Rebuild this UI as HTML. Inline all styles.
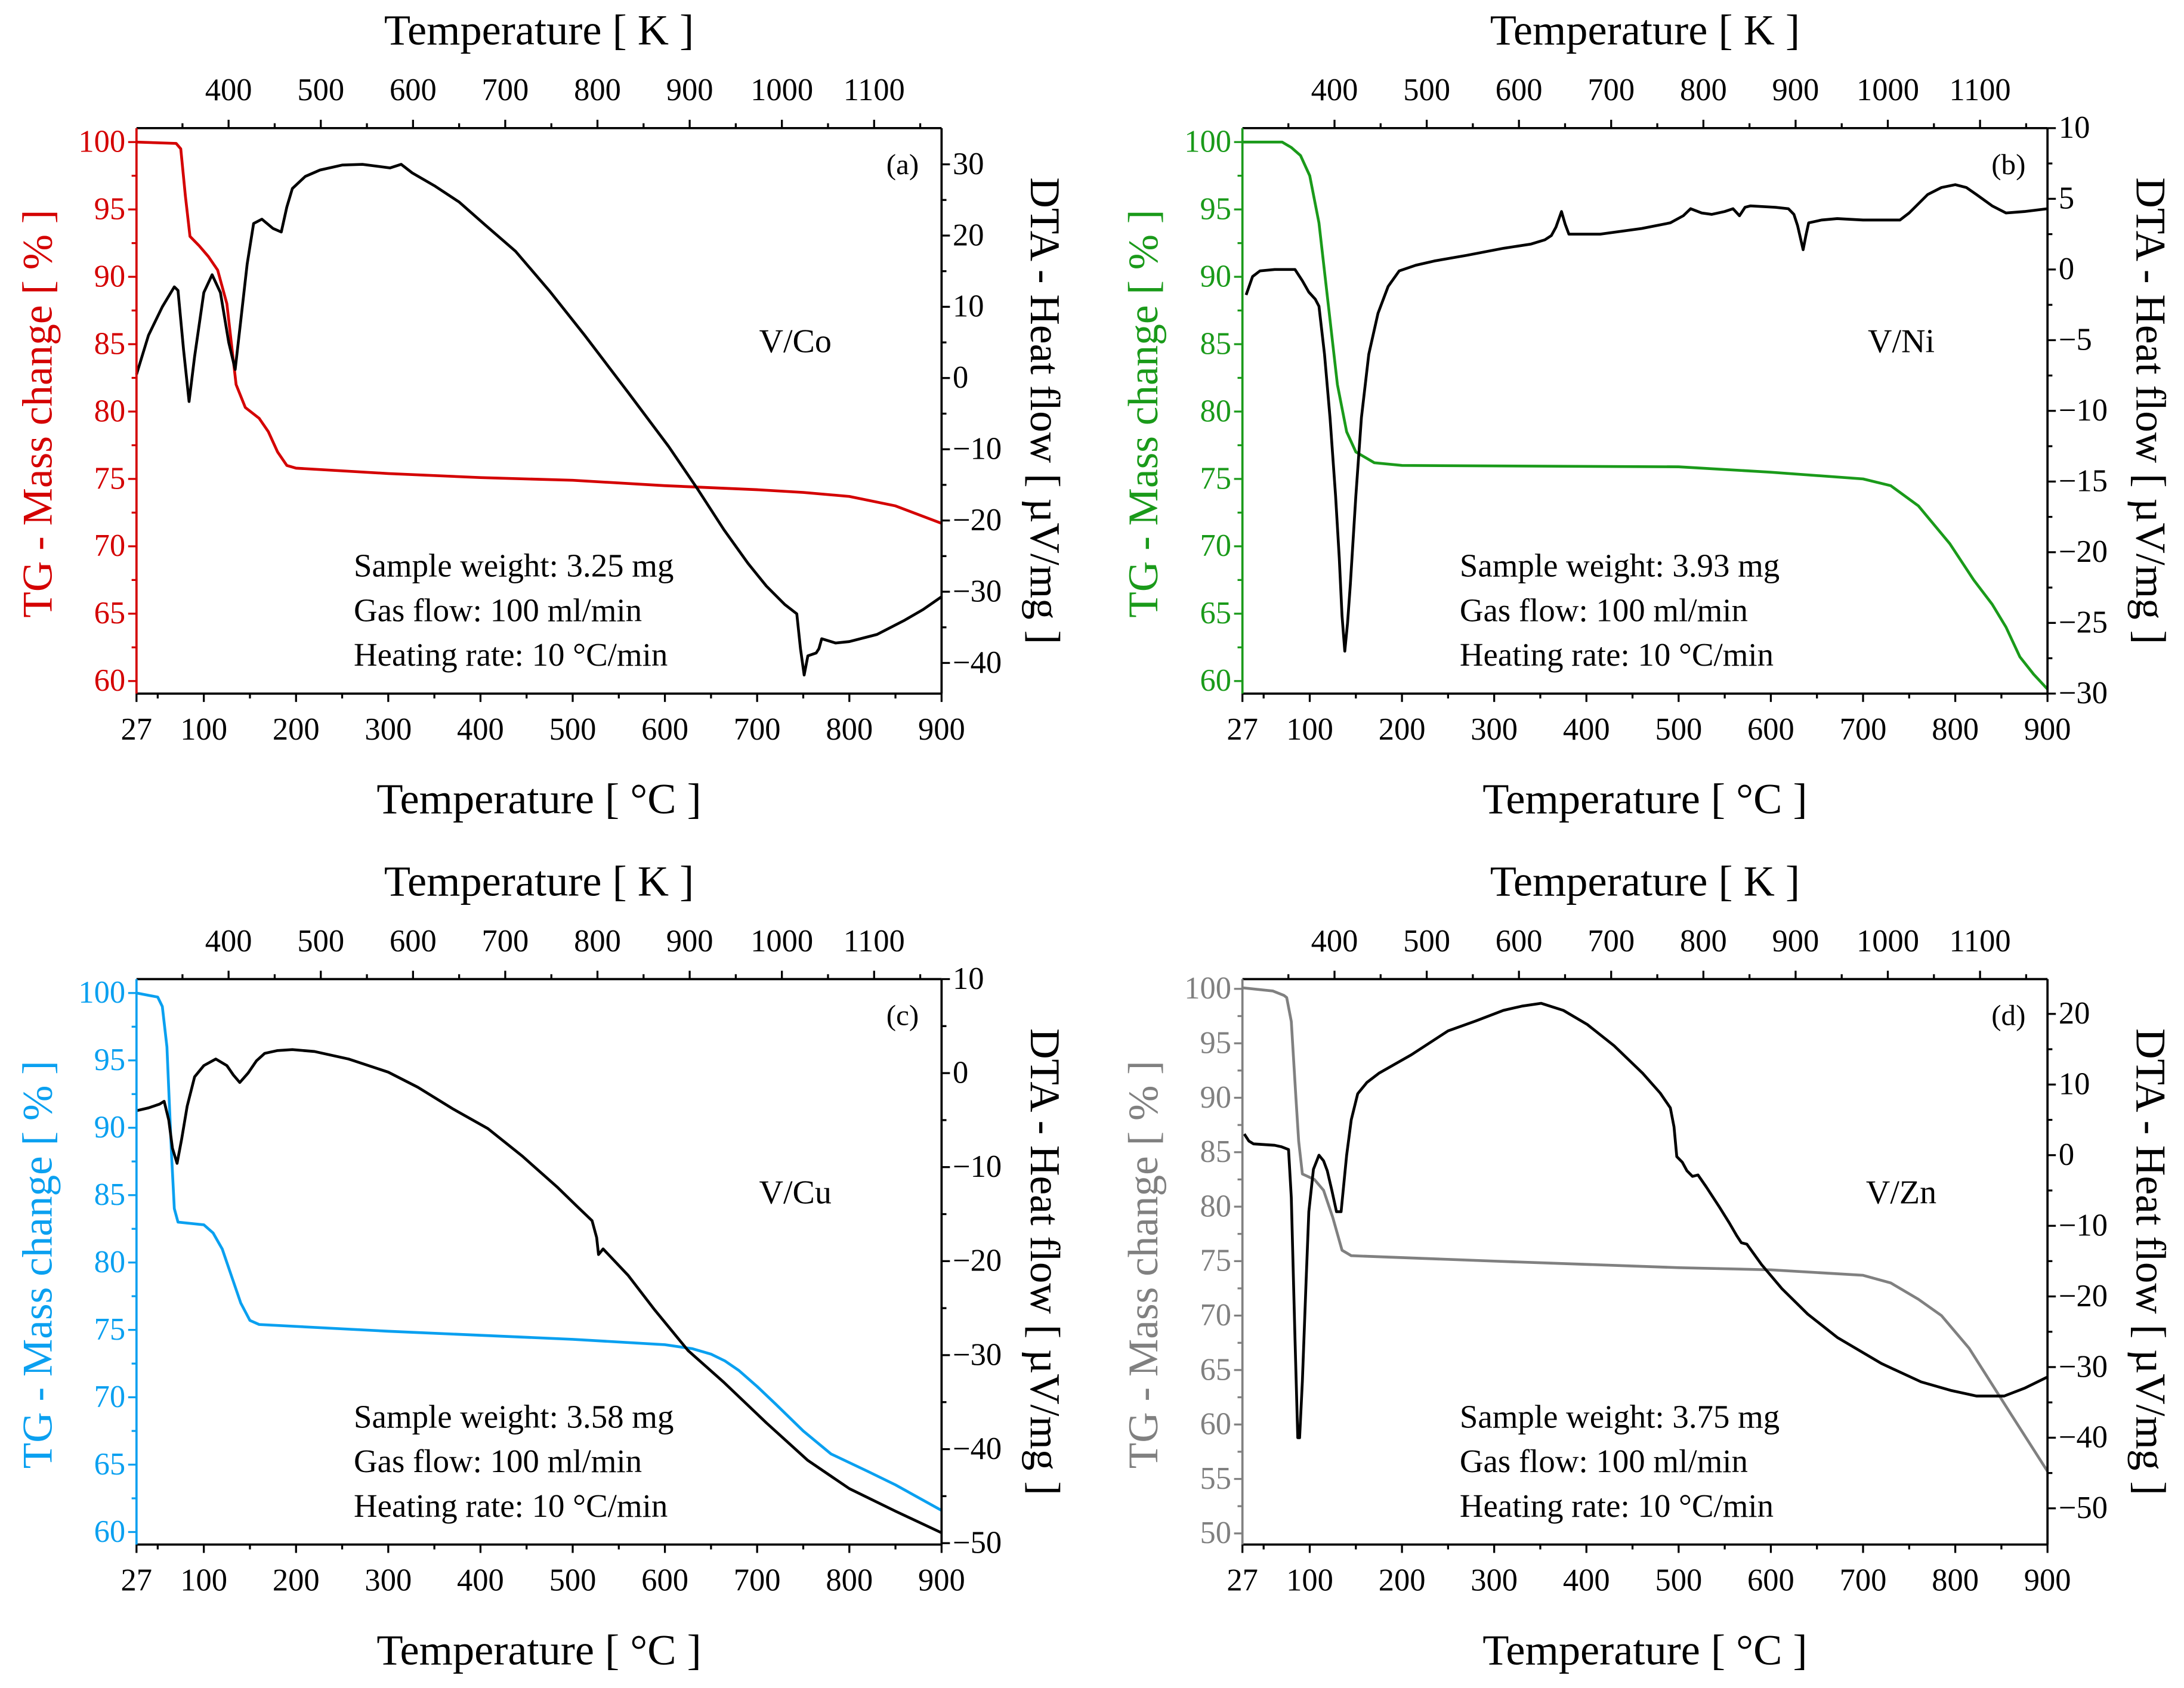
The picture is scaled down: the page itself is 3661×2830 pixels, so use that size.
<!DOCTYPE html>
<html><head><meta charset="utf-8"><style>
html,body{margin:0;padding:0;background:#fff;}
svg{display:block;}
text{font-family:"Liberation Serif",serif;}
</style></head><body>
<svg id="fig" width="3661" height="2830" viewBox="0 0 1568 1212" preserveAspectRatio="none" xmlns="http://www.w3.org/2000/svg"></svg>
<script>
// ---- data ----
const tgA=[[27,100],[70,99.9],[75,99.5],[80,96],[85,93],[95,92.3],[105,91.5],[115,90.5],[125,88],[135,82],[145,80.3],[160,79.5],[170,78.5],[180,77],[190,76],[200,75.8],[300,75.4],[400,75.1],[500,74.9],[600,74.5],[700,74.2],[750,74],[800,73.7],[850,73],[900,71.7]];
const dtaA=[[27,0.5],[40,6],[55,10],[68,12.8],[72,12.3],[78,4],[84,-3.3],[90,3],[100,12],[109,14.5],[118,12],[127,5],[134,1.2],[140,8],[147,16],[154,21.7],[163,22.3],[175,21],[184,20.5],[190,24],[196,26.6],[210,28.3],[226,29.2],[250,29.9],[272,30],[302,29.5],[314,30],[326,28.8],[350,27],[377,24.7],[405,21.5],[438,17.8],[475,12.2],[513,6],[560,-2],[604,-9.6],[635,-15.5],[664,-21.3],[690,-26],[710,-29.2],[730,-31.8],[743,-33.1],[747,-38],[751,-41.7],[755,-39],[764,-38.6],[767,-38],[770,-36.6],[785,-37.2],[800,-37],[830,-36],[860,-34],[880,-32.5],[900,-30.7]];
const tgB=[[27,100],[70,100],[80,99.6],[90,99],[100,97.5],[110,94],[120,88],[130,82],[140,78.5],[150,77],[170,76.2],[200,76],[500,75.9],[600,75.5],[700,75],[730,74.5],[760,73],[794,70.2],[820,67.5],[840,65.7],[855,64],[870,61.8],[885,60.5],[900,59.4]];
const dtaB=[[31,-1.8],[38,-0.5],[46,-0.1],[62,0],[84,0],[92,-0.8],[99,-1.6],[106,-2.1],[110,-2.6],[116,-6],[122,-10.5],[128,-16],[132,-20.4],[135,-24.5],[138,-27],[141,-25],[144,-22.3],[150,-16],[156,-10.5],[164,-6],[174,-3.1],[185,-1.2],[197,-0.1],[215,0.3],[235,0.6],[270,1],[310,1.5],[340,1.8],[355,2.1],[362,2.4],[367,3],[373,4.1],[377,3.2],[381,2.5],[415,2.5],[460,2.9],[491,3.3],[505,3.8],[513,4.3],[525,4],[536,3.9],[550,4.1],[559,4.3],[566,3.8],[572,4.4],[578,4.5],[605,4.4],[619,4.3],[625,3.9],[629,3.1],[635,1.4],[638,2.4],[641,3.3],[655,3.5],[672,3.6],[700,3.5],[740,3.5],[750,4],[770,5.3],[785,5.8],[800,6],[812,5.8],[823,5.3],[840,4.5],[855,4],[875,4.1],[900,4.3]];
const tgC=[[27,100],[50,99.7],[55,99],[60,96],[65,88],[68,84],[72,83],[100,82.8],[110,82.2],[120,81],[130,79],[140,77],[150,75.7],[160,75.4],[300,74.9],[500,74.3],[600,73.9],[630,73.6],[650,73.2],[665,72.7],[680,72],[700,70.8],[720,69.5],[750,67.5],[780,65.8],[820,64.5],[850,63.5],[900,61.6]];
const dtaC=[[27,-4],[40,-3.7],[52,-3.3],[57,-3],[62,-5],[66,-8],[71,-9.6],[76,-7],[82,-3.5],[90,-0.4],[100,0.8],[113,1.5],[125,0.8],[132,-0.2],[139,-1],[148,0],[157,1.3],[166,2.1],[180,2.4],[196,2.5],[220,2.3],[257,1.5],[300,0.1],[332,-1.5],[370,-3.8],[408,-5.9],[445,-8.8],[483,-12.1],[505,-14.2],[521,-15.7],[526,-17.5],[528,-19.3],[533,-18.7],[560,-21.5],[589,-25.2],[625,-29.5],[664,-32.9],[710,-37.2],[755,-41.2],[800,-44.2],[850,-46.6],[900,-48.9]];
const tgD=[[27,100.1],[60,99.8],[72,99.4],[75,99.2],[80,97],[85,90],[88,86],[92,83],[105,82.5],[115,81.5],[125,79],[135,76],[145,75.5],[300,75],[500,74.4],[600,74.2],[700,73.7],[730,73],[760,71.5],[785,70],[800,68.5],[815,67],[830,65],[860,61],[900,55.7]];
const dtaD=[[29,3],[34,2],[39,1.6],[62,1.4],[69,1.2],[77,0.8],[80,-6],[84,-26],[87,-40],[89,-40],[92,-32],[96,-18],[99,-8],[104,-2],[110,0],[115,-0.8],[119,-2.2],[124,-5],[129,-8],[134,-8],[137,-4],[140,0],[145,5],[152,8.7],[162,10.3],[175,11.6],[210,14.2],[250,17.6],[280,19],[310,20.5],[330,21.1],[351,21.5],[375,20.5],[401,18.5],[430,15.5],[461,11.6],[480,8.8],[491,6.7],[495,4],[498,-0.2],[504,-1],[509,-2.2],[515,-3],[521,-2.8],[530,-4.5],[544,-7.3],[555,-9.6],[563,-11.4],[568,-12.4],[574,-12.6],[590,-15.5],[612,-18.9],[640,-22.5],[672,-25.8],[720,-29.5],[763,-32.1],[795,-33.3],[823,-34.1],[853,-34.1],[875,-33],[900,-31.4]];

const tgTicksA=[60,65,70,75,80,85,90,95,100];
const dtaTicksA=[-40,-30,-20,-10,0,10,20,30];
const dtaTicksB=[-30,-25,-20,-15,-10,-5,0,5,10];
const dtaTicksC=[-50,-40,-30,-20,-10,0,10];
const tgTicksD=[50,55,60,65,70,75,80,85,90,95,100];
const dtaTicksD=[-50,-40,-30,-20,-10,0,10,20];
const cTicks=[27,100,200,300,400,500,600,700,800,900];
const kTicks=[400,500,600,700,800,900,1000,1100];

const NS="http://www.w3.org/2000/svg";
const svg=document.getElementById('fig');
function mk(tag,attrs,parent,txt){const e=document.createElementNS(NS,tag);for(const k in attrs)e.setAttribute(k,attrs[k]);if(txt!==undefined)e.textContent=txt;(parent||svg).appendChild(e);return e;}

const panels=[
 {id:'a',ox:0,oy:0,color:'#d40000',tg:tgA,dta:dtaA,tgMin:60,tgMax:100,tgY0:102,tgY1:489,tgTicks:tgTicksA,tgMinor:2.5,dMin:-40,dMax:30,dY0:476,dY1:118,dTicks:dtaTicksA,dMinor:5,label:'V/Co',w:'3.25'},
 {id:'b',ox:794,oy:0,color:'#1a9a1a',tg:tgB,dta:dtaB,tgMin:60,tgMax:100,tgY0:102,tgY1:489,tgTicks:tgTicksA,tgMinor:2.5,dMin:-30,dMax:10,dY0:498,dY1:92,dTicks:dtaTicksB,dMinor:2.5,label:'V/Ni',w:'3.93'},
 {id:'c',ox:0,oy:611,color:'#0aa0f0',tg:tgC,dta:dtaC,tgMin:60,tgMax:100,tgY0:102,tgY1:489,tgTicks:tgTicksA,tgMinor:2.5,dMin:-50,dMax:10,dY0:497,dY1:92,dTicks:dtaTicksC,dMinor:5,label:'V/Cu',w:'3.58'},
 {id:'d',ox:794,oy:611,color:'#808080',tg:tgD,dta:dtaD,tgMin:50,tgMax:100,tgY0:99,tgY1:490,tgTicks:tgTicksD,tgMinor:2.5,dMin:-50,dMax:20,dY0:472,dY1:117,dTicks:dtaTicksD,dMinor:5,label:'V/Zn',w:'3.75'}
];

panels.forEach(p=>{
 const g=mk('g',{transform:`translate(${p.ox},${p.oy})`});
 
 
 const L=98,R=676,T=92,B=498;
 const xs=t=>L+(t-27)*(R-L)/873;
 const yT=v=>p.tgY1+(v-p.tgMin)*(p.tgY0-p.tgY1)/(p.tgMax-p.tgMin);
 const yD=v=>p.dY0+(v-p.dMin)*(p.dY1-p.dY0)/(p.dMax-p.dMin);
 const tgPath=mk('path',{d:'M'+p.tg.map(d=>xs(d[0]).toFixed(2)+','+yT(d[1]).toFixed(2)).join('L'),fill:'none',stroke:p.color,'stroke-width':2,'stroke-linejoin':'round'},g);
 
 
 const dPath=mk('path',{d:'M'+p.dta.map(d=>xs(d[0]).toFixed(2)+','+yD(d[1]).toFixed(2)).join('L'),fill:'none',stroke:'#000','stroke-width':2,'stroke-linejoin':'round'},g);
 
 
 mk('line',{x1:L,y1:T,x2:R,y2:T,stroke:'#000','stroke-width':1.6},g);
 mk('line',{x1:L,y1:B,x2:R,y2:B,stroke:'#000','stroke-width':1.6},g);
 mk('line',{x1:L,y1:T,x2:L,y2:B,stroke:p.color,'stroke-width':1.6},g);
 mk('line',{x1:R,y1:T,x2:R,y2:B,stroke:'#000','stroke-width':1.6},g);
 for(let t=50;t<=900;t+=50){const maj=t%100===0;mk('line',{x1:xs(t),x2:xs(t),y1:B,y2:B+(maj?6:3.5),stroke:'#000','stroke-width':1.4},g);}
 mk('line',{x1:xs(27),x2:xs(27),y1:B,y2:B+6,stroke:'#000','stroke-width':1.4},g);
 cTicks.forEach(t=>{const e=mk('text',{x:xs(t),y:B+33,'font-size':22.5,'text-anchor':'middle'},g,String(t));});
 for(let k=350;k<=1150;k+=50){const t=k-273.15;if(t<27||t>900)continue;const maj=k%100===0;mk('line',{x1:xs(t),x2:xs(t),y1:T,y2:T-(maj?6:3.5),stroke:'#000','stroke-width':1.4},g);}
 kTicks.forEach(k=>{const e=mk('text',{x:xs(k-273.15),y:T-20,'font-size':22.5,'text-anchor':'middle'},g,String(k));});
 for(let v=p.tgMin;v<=p.tgMax+0.01;v+=p.tgMinor){const maj=Math.abs(v%5)<0.01;mk('line',{x1:L,x2:L-(maj?6:3.5),y1:yT(v),y2:yT(v),stroke:p.color,'stroke-width':1.4},g);}
 p.tgTicks.forEach(v=>{const e=mk('text',{x:L-8,y:yT(v)+7,'font-size':22.5,'text-anchor':'end',fill:p.color},g,String(v));});
 for(let v=p.dMin;v<=p.dMax+0.01;v+=p.dMinor){const maj=p.dTicks.some(t=>Math.abs(t-v)<0.01);mk('line',{x1:R,x2:R+(maj?6:3.5),y1:yD(v),y2:yD(v),stroke:'#000','stroke-width':1.4},g);}
 p.dTicks.forEach(v=>{const e=mk('text',{x:R+8,y:yD(v)+7,'font-size':22.5,'text-anchor':'start'},g,v<0?'\u2212'+(-v):String(v));});
 let e;
 e=mk('text',{x:387,y:32,'font-size':31,'text-anchor':'middle'},g,'Temperature [ K ]');
 e=mk('text',{x:387,y:584,'font-size':31,'text-anchor':'middle'},g,'Temperature [ °C ]');
 e=mk('text',{x:0,y:0,'font-size':30.5,'text-anchor':'middle',fill:p.color,transform:`translate(37,297) rotate(-90)`},g,'TG - Mass change [ % ]');
 e=mk('text',{x:0,y:0,'font-size':30.5,'text-anchor':'middle',transform:`translate(740,295) rotate(90)`},g,'DTA - Heat flow [ µV/mg ]');
 e=mk('text',{x:648,y:125,'font-size':21,'text-anchor':'middle','font-family':'Liberation Sans, sans-serif'},g,'('+p.id+')');
 e=mk('text',{x:571,y:253,'font-size':24,'text-anchor':'middle'},g,p.label);
 e=mk('text',{x:254,y:414,'font-size':23.5},g,'Sample weight: '+p.w+' mg');
 e=mk('text',{x:254,y:446,'font-size':23.5},g,'Gas flow: 100 ml/min');
 e=mk('text',{x:254,y:478,'font-size':23.5},g,'Heating rate: 10 °C/min');
});
</script>
</body></html>
